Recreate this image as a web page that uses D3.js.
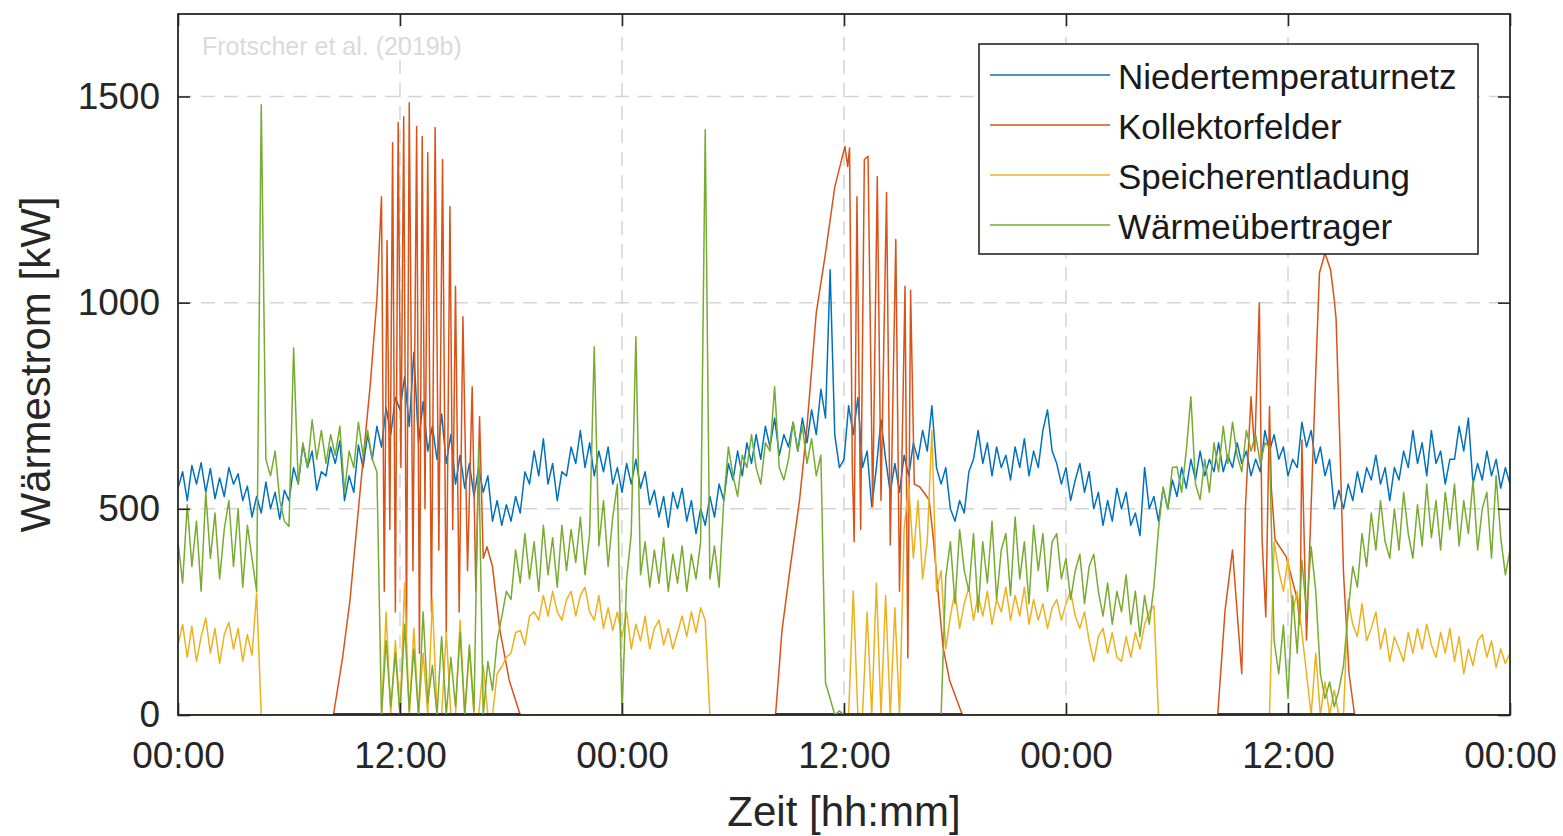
<!DOCTYPE html>
<html>
<head>
<meta charset="utf-8">
<script src="https://cdn.jsdelivr.net/npm/d3@7"></script>
<style>
  body { margin: 0; background: #ffffff; }
  text { font-family: "Liberation Sans", Arial, sans-serif; }
</style>
</head>
<body>
<div id="chart"></div>
<script>
//--data (3 days, one value every 15 min)--//
var step = 0.25; // hours between two samples

// Niedertemperaturnetz [kW]
var niedertemperaturnetz = [
  550, 590, 520, 605, 560, 612, 540, 598, 525, 575, 530, 600,
  560, 585, 520, 555, 480, 530, 490, 565, 500, 540, 475, 545,
  520, 600, 560, 655, 600, 640, 545, 590, 580, 650, 610, 665,
  520, 580, 540, 655, 600, 680, 620, 700, 650, 745, 680, 770,
  740, 820, 700, 880, 660, 760, 640, 700, 620, 730, 610, 680,
  560, 630, 550, 610, 530, 600, 540, 580, 470, 520, 460, 510,
  470, 530, 490, 590, 560, 640, 580, 670, 560, 610, 520, 590,
  580, 650, 610, 690, 600, 660, 580, 640, 590, 650, 560, 600,
  540, 610, 560, 620, 550, 590, 510, 545, 480, 530, 455, 540,
  500, 550, 470, 520, 440, 500, 460, 530, 480, 560, 520, 610,
  570, 640, 580, 660, 610, 680, 620, 700, 650, 720, 630, 680,
  650, 710, 640, 720, 660, 740, 680, 790, 720, 1080, 680, 600,
  620, 750, 680, 770, 600, 640, 505, 600, 716, 620, 540, 610,
  540, 630, 580, 660, 620, 690, 640, 750, 600, 560, 600, 500,
  470, 520, 490, 590, 620, 690, 610, 660, 580, 650, 600, 630,
  570, 650, 600, 670, 580, 640, 600, 690, 740, 640, 610, 560,
  600, 520, 570, 610, 540, 590, 500, 540, 460, 520, 470, 550,
  500, 540, 460, 490, 435, 600, 500, 530, 470, 550, 500, 570,
  530, 600, 550, 620, 570, 640, 580, 620, 590, 660, 590, 630,
  600, 660, 610, 640, 580, 620, 590, 690, 640, 680, 620, 650,
  580, 620, 600, 710, 650, 690, 610, 650, 580, 620, 500, 545,
  500, 560, 520, 590, 540, 600, 570, 630, 560, 600, 520, 600,
  570, 640, 600, 690, 610, 660, 580, 690, 610, 640, 560, 620,
  620, 700, 640, 720, 560, 610, 570, 640, 580, 620, 550, 600,
  560
];

// Speicherentladung [kW]
var speicherentladung = [
  170, 220, 140, 215, 130, 190, 235, 150, 210, 125, 195, 225,
  160, 210, 130, 195, 145, 296, 0, 0, 0, 0, 0, 0,
  0, 0, 0, 0, 0, 0, 0, 0, 0, 0, 0, 0,
  0, 0, 0, 0, 0, 0, 0, 0, 0, 250, 0, 180,
  0, 320, 0, 210, 0, 150, 0, 280, 0, 0, 200, 0,
  0, 230, 0, 160, 0, 0, 120, 0, 0, 100, 117, 140,
  150, 200, 205, 170, 240, 250, 230, 290, 240, 300, 250, 230,
  280, 300, 240, 290, 310, 250, 230, 290, 210, 260, 205, 250,
  190, 250, 160, 220, 180, 240, 160, 210, 230, 170, 210, 160,
  200, 240, 190, 250, 200, 260, 230, 0, 0, 0, 0, 0,
  0, 0, 0, 0, 0, 0, 0, 0, 0, 0, 0, 0,
  0, 0, 0, 0, 0, 0, 0, 0, 0, 0, 0, 0,
  0, 0, 300, 0, 0, 250, 0, 320, 0, 290, 0, 260,
  0, 450, 560, 380, 520, 330, 420, 690, 300, 350, 160, 240,
  300, 210, 270, 310, 230, 290, 240, 300, 220, 280, 250, 310,
  230, 290, 240, 310, 220, 280, 230, 270, 210, 260, 280, 230,
  270, 300, 240, 210, 250, 180, 130, 190, 210, 150, 200, 140,
  130, 190, 140, 200, 160, 220, 250, 265, 0, 0, 0, 0,
  0, 0, 0, 0, 0, 0, 0, 0, 0, 0, 0, 0,
  0, 0, 0, 0, 0, 0, 0, 0, 0, 420, 350, 300,
  380, 250, 300, 200, 100, 0, 150, 0, 80, 0, 60, 0,
  0, 280, 220, 190, 270, 180, 210, 250, 160, 210, 130, 190,
  160, 130, 200, 150, 210, 160, 220, 170, 140, 200, 150, 210,
  130, 190, 100, 160, 120, 180, 195, 140, 180, 115, 160, 125,
  150
];

// Wärmeübertrager [kW]
var waermeuebertrager = [
  420, 320, 510, 360, 470, 300, 540, 380, 490, 330, 450, 520,
  360, 500, 310, 460, 380, 300, 1480, 620, 580, 640, 521, 470,
  457, 890, 560, 660, 600, 716, 620, 690, 610, 680, 630, 700,
  540, 640, 600, 710, 630, 690, 620, 590, 0, 180, 20, 150,
  0, 220, 10, 160, 0, 250, 30, 120, 0, 190, 0, 140,
  20, 200, 0, 170, 10, 650, 0, 130, 60, 180, 238, 300,
  280, 400, 320, 440, 330, 420, 300, 460, 340, 430, 310, 460,
  350, 450, 370, 480, 340, 440, 893, 410, 520, 360, 480, 560,
  0, 330, 440, 917, 340, 420, 310, 400, 320, 430, 300, 390,
  320, 410, 300, 390, 330, 420, 1420, 330, 410, 310, 520, 650,
  580, 530, 630, 600, 680, 600, 560, 660, 640, 796, 600, 570,
  620, 710, 640, 700, 610, 670, 580, 630, 78, 40, 0, 10,
  0, 0, 0, 0, 0, 0, 0, 0, 0, 0, 0, 0,
  0, 0, 0, 0, 0, 0, 0, 0, 0, 0, 335, 420,
  270, 450, 350, 300, 440, 250, 420, 320, 470, 280, 400, 440,
  290, 480, 330, 420, 270, 460, 350, 440, 300, 420, 440, 330,
  380, 280, 350, 390, 270, 360, 390, 300, 240, 320, 220, 300,
  250, 340, 220, 300, 190, 290, 220, 310, 450, 553, 500, 600,
  602, 540, 640, 772, 560, 522, 620, 540, 660, 590, 700, 610,
  710, 630, 590, 690, 640, 680, 610, 660, 650, 180, 100, 218,
  40, 290, 150, 376, 250, 408, 300, 100, 40, 80, 20, 60,
  120, 250, 360, 310, 440, 360, 490, 400, 520, 420, 380, 500,
  400, 540, 440, 380, 510, 410, 560, 430, 520, 400, 540, 450,
  560, 410, 520, 440, 570, 400, 500, 540, 380, 580, 430, 340,
  400
];

// Kollektorfelder [hour, kW] - zero outside the sunny hours
var kollektorfelder = [
  [0, 0],
  [8.4, 0], [8.9, 140], [9.3, 280], [9.8, 522], [10.4, 805], [10.75, 1007],
  [11.0, 1257], [11.15, 300], [11.3, 1150], [11.45, 450], [11.6, 1388], [11.75, 250],
  [11.9, 1437], [12.05, 600], [12.2, 1451], [12.35, 200], [12.5, 1485], [12.7, 350],
  [12.9, 1427], [13.05, 150], [13.2, 1403], [13.35, 500], [13.5, 1364], [13.7, 250],
  [13.9, 1425], [14.1, 400], [14.3, 1347], [14.5, 200], [14.7, 1233], [14.85, 450],
  [15.0, 1040], [15.2, 250], [15.4, 966], [15.65, 350], [15.9, 796], [16.1, 300],
  [16.3, 723], [16.5, 380], [16.7, 408], [17.0, 360], [17.4, 206], [17.9, 85], [18.5, 0],
  [32.3, 0], [32.65, 206], [33.1, 360], [33.6, 522], [34.0, 700], [34.5, 975],
  [35.0, 1120], [35.5, 1280], [36.05, 1379], [36.2, 1330], [36.3, 1375], [36.45, 600],
  [36.55, 420], [36.7, 1257], [36.9, 450], [37.1, 1347], [37.3, 1355], [37.55, 505],
  [37.8, 1306], [38.0, 520], [38.3, 1267], [38.5, 412], [38.8, 1153], [39.0, 300],
  [39.3, 1040], [39.45, 138], [39.6, 1030], [39.8, 560], [40.1, 553], [40.6, 522],
  [40.8, 441], [41.35, 165], [41.7, 85], [42.4, 0],
  [56.2, 0], [56.6, 255], [57.0, 400], [57.5, 100], [57.7, 505], [58.0, 772],
  [58.2, 640], [58.45, 1000], [58.6, 425], [58.8, 238], [59.0, 748], [59.1, 550],
  [59.3, 425], [59.9, 384], [60.5, 280], [60.65, 220], [60.75, 667], [61.0, 182],
  [61.5, 830], [61.7, 1072], [62.0, 1120], [62.3, 1080], [62.5, 1007], [62.6, 960],
  [62.8, 667], [63.0, 345], [63.3, 100], [63.6, 0],
  [72, 0]
];

// spans where the dark zero line shows on the time axis [from, to] in hours
var darkZero = [[8.4, 18.5], [32.3, 42.4], [56.2, 63.6]];

var seriesNames = ["Niedertemperaturnetz", "Kollektorfelder", "Speicherentladung", "Wärmeübertrager"];
var seriesColors = ["#0072BD", "#D95319", "#EDB120", "#77AC30"];

var xTickHours = [0, 12, 24, 36, 48, 60, 72];
var xTickLabels = ["00:00", "12:00", "00:00", "12:00", "00:00", "12:00", "00:00"];
var yTicks = [0, 500, 1000, 1500];

//--chart--//
var margin = {top: 14, right: 53, bottom: 121, left: 178},
  width = 1563 - margin.left - margin.right,
  height = 836 - margin.top - margin.bottom;

var svgRoot = d3.select("#chart")
  .append("svg")
    .attr("width", width + margin.left + margin.right)
    .attr("height", height + margin.top + margin.bottom);

svgRoot.append("rect")
  .attr("width", 1563).attr("height", 836).style("fill", "#ffffff");

var svg = svgRoot.append("g")
  .attr("transform", "translate(" + margin.left + "," + margin.top + ")");

var x = d3.scaleLinear()
  .domain([0, 72])
  .range([0, width]);

var y = d3.scaleLinear()
  .domain([0, 1700])
  .range([height, 0]);

// dashed grid
svg.append("g")
  .selectAll("line")
  .data(xTickHours.slice(1, -1))
  .enter()
  .append("line")
    .attr("x1", function(d) { return x(d); })
    .attr("x2", function(d) { return x(d); })
    .attr("y1", 0)
    .attr("y2", height)
    .style("stroke", "#d4d4d4")
    .style("stroke-width", 1.5)
    .style("stroke-dasharray", "14,9");

svg.append("g")
  .selectAll("line")
  .data(yTicks.slice(1))
  .enter()
  .append("line")
    .attr("x1", 0)
    .attr("x2", width)
    .attr("y1", function(d) { return y(d); })
    .attr("y2", function(d) { return y(d); })
    .style("stroke", "#d4d4d4")
    .style("stroke-width", 1.5)
    .style("stroke-dasharray", "14,9");

// watermark
svg.append("text")
  .attr("x", 24)
  .attr("y", 41)
  .text("Frotscher et al. (2019b)")
  .style("font-size", "25px")
  .style("fill", "#dadada");

// lines
svg.append("clipPath").attr("id", "plotclip")
  .append("rect").attr("width", width).attr("height", height);

var line = d3.line()
  .x(function(d) { return x(d[0]); })
  .y(function(d) { return y(d[1]); });

function toPairs(values) {
  return values.map(function(v, i) { return [i * step, v]; });
}

var lineData = [
  toPairs(niedertemperaturnetz),
  kollektorfelder,
  toPairs(speicherentladung)
];

var plot = svg.append("g").attr("clip-path", "url(#plotclip)");

lineData.forEach(function(data, i) {
  plot.append("path")
    .datum(data)
    .attr("d", line)
    .style("fill", "none")
    .style("stroke", seriesColors[i])
    .style("stroke-width", 1.5)
    .style("stroke-linejoin", "round");
});

// dark zero line during the sunny hours
plot.append("g")
  .selectAll("line")
  .data(darkZero)
  .enter()
  .append("line")
    .attr("x1", function(d) { return x(d[0]); })
    .attr("x2", function(d) { return x(d[1]); })
    .attr("y1", y(0) - 1)
    .attr("y2", y(0) - 1)
    .style("stroke", "#3a3a3a")
    .style("stroke-width", 2);

plot.append("path")
  .datum(toPairs(waermeuebertrager))
  .attr("d", line)
  .style("fill", "none")
  .style("stroke", seriesColors[3])
  .style("stroke-width", 1.5)
  .style("stroke-linejoin", "round");

// axes, ticks pointing inwards on all four sides
var axisColor = "#262626";

svg.append("g")
  .attr("transform", "translate(0," + height + ")")
  .call(d3.axisBottom(x)
    .tickValues(xTickHours)
    .tickFormat(function(d, i) { return xTickLabels[i]; })
    .tickSizeInner(-12).tickSizeOuter(0).tickPadding(27))
  .call(function(g) { g.select(".domain").remove(); });

svg.append("g")
  .call(d3.axisTop(x).tickValues(xTickHours).tickFormat("").tickSizeInner(-12).tickSizeOuter(0))
  .call(function(g) { g.select(".domain").remove(); });

svg.append("g")
  .call(d3.axisLeft(y)
    .tickValues(yTicks)
    .tickFormat(d3.format("d"))
    .tickSizeInner(-12).tickSizeOuter(0).tickPadding(18))
  .call(function(g) { g.select(".domain").remove(); });

svg.append("g")
  .attr("transform", "translate(" + width + ",0)")
  .call(d3.axisRight(y).tickValues(yTicks).tickFormat("").tickSizeInner(-12).tickSizeOuter(0))
  .call(function(g) { g.select(".domain").remove(); });

svg.selectAll(".tick line")
  .style("stroke", axisColor)
  .style("stroke-width", 1.6);
svg.selectAll(".tick text")
  .style("font-size", "37px")
  .style("font-family", "'Liberation Sans', Arial, sans-serif")
  .style("fill", axisColor);

svg.append("rect")
  .attr("width", width)
  .attr("height", height)
  .style("fill", "none")
  .style("stroke", axisColor)
  .style("stroke-width", 1.8);

// axis labels
svg.append("text")
  .attr("text-anchor", "middle")
  .attr("x", width / 2)
  .attr("y", height + 111)
  .text("Zeit [hh:mm]")
  .style("font-size", "42px")
  .style("fill", axisColor);

svg.append("text")
  .attr("text-anchor", "middle")
  .attr("transform", "translate(" + (-128) + "," + (height / 2) + ") rotate(-90)")
  .text("Wärmestrom [kW]")
  .style("font-size", "42px")
  .style("fill", axisColor);

// legend
var legend = svgRoot.append("g").attr("transform", "translate(979,44)");
legend.append("rect")
  .attr("width", 499)
  .attr("height", 210)
  .style("fill", "#ffffff")
  .style("stroke", axisColor)
  .style("stroke-width", 1.6);

seriesNames.forEach(function(name, i) {
  var ly = 31 + i * 50;
  legend.append("line")
    .attr("x1", 11).attr("x2", 131)
    .attr("y1", ly).attr("y2", ly)
    .style("stroke", seriesColors[i])
    .style("stroke-width", 1.5);
  legend.append("text")
    .attr("x", 139)
    .attr("y", ly + 2)
    .attr("dy", "0.35em")
    .text(name)
    .style("font-size", "35px")
    .style("fill", "#1a1a1a");
});
</script>
</body>
</html>
